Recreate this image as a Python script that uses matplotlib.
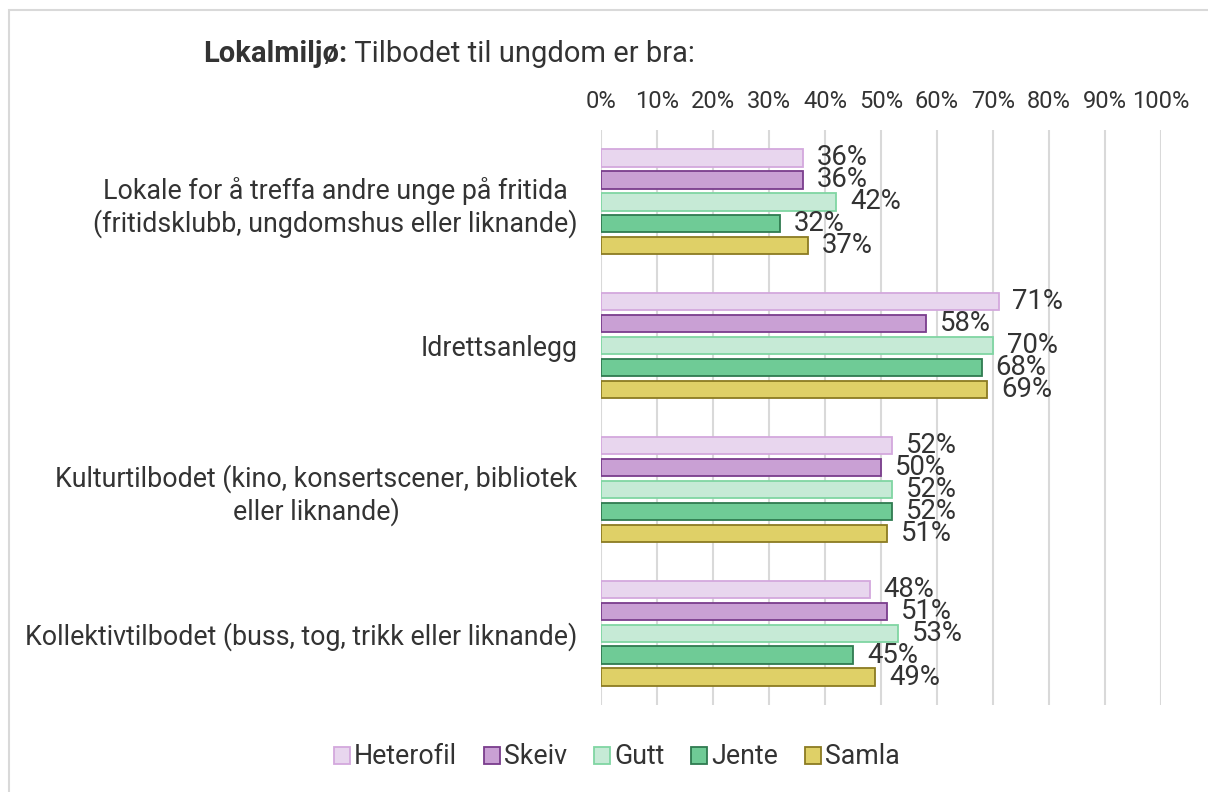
import matplotlib
matplotlib.use("Agg")
import matplotlib.pyplot as plt
from matplotlib.patches import Rectangle
import numpy as np

plt.rcParams['font.family'] = ['Roboto', 'DejaVu Sans']

categories = [
    "Lokale for å treffa andre unge på fritida\n(fritidsklubb, ungdomshus eller liknande)",
    "Idrettsanlegg",
    "Kulturtilbodet (kino, konsertscener, bibliotek\neller liknande)",
    "Kollektivtilbodet (buss, tog, trikk eller liknande)",
]
series_names = ["Heterofil", "Skeiv", "Gutt", "Jente", "Samla"]
heterofil = [36, 71, 52, 48]
skeiv = [36, 58, 50, 51]
gutt = [42, 70, 52, 53]
jente = [32, 68, 52, 45]
samla = [37, 69, 51, 49]
tick_values = [0, 10, 20, 30, 40, 50, 60, 70, 80, 90, 100]

series = [heterofil, skeiv, gutt, jente, samla]
face_colors = ["#E8D6EE", "#C9A0D4", "#C6EAD6", "#6FCB96", "#DFD067"]
edge_colors = ["#D3A8DD", "#7A3D8C", "#80D5A3", "#2F7B50", "#8B7B22"]
text_col = "#333333"

fig = plt.figure(figsize=(12.08, 7.92), dpi=100)
ax = fig.add_axes([601 / 1208, 1 - 705 / 792, 560 / 1208, 575 / 792])

# frame around the chart
fig.patches.append(Rectangle((9 / 1208, -0.1), 1.2, 1 - 10 / 792 + 0.1,
                             transform=fig.transFigure, fill=False,
                             edgecolor="#D9D9D9", linewidth=1.5))

step = 0.153
height = 0.12
y_base = np.arange(len(categories))
for j, (name, vals) in enumerate(zip(series_names, series)):
    ypos = y_base + (j - 2) * step
    ax.barh(ypos, vals, height=height, color=face_colors[j],
            edgecolor=edge_colors[j], linewidth=1.3, label=name, zorder=3)
    for y, v in zip(ypos, vals):
        ax.annotate(f"{v}%", xy=(v, y), xytext=(10, 0), textcoords="offset points",
                    ha="left", va="center", fontsize=19.8, color=text_col, zorder=4)

ax.set_ylim(len(categories) - 0.5, -0.5)
ax.set_xlim(0, 100)
ax.set_xticks(tick_values)
ax.set_xticklabels([f"{t}%" for t in tick_values])
ax.xaxis.tick_top()
ax.tick_params(axis="x", length=0, pad=12, labelsize=17, colors=text_col)
ax.set_yticks(y_base)
ax.set_yticklabels(categories, multialignment="center")
ax.tick_params(axis="y", length=0, pad=17, labelsize=19.3, colors=text_col)
ax.grid(axis="x", color="#D9D9D9", linewidth=1.5, zorder=0)
ax.set_axisbelow(True)
for s in ax.spines.values():
    s.set_visible(False)

t1 = fig.text(203 / 1208, 1 - 62 / 792, "Lokalmiljø:", fontsize=21, fontweight="bold",
              color=text_col, ha="left", va="baseline")
ax.annotate(" Tilbodet til ungdom er bra:", xy=(1, 0), xycoords=t1, fontsize=21,
            color=text_col, ha="left", va="bottom", annotation_clip=False)

leg = fig.legend(loc="center", bbox_to_anchor=(617 / 1208, 1 - 757 / 792), ncol=5,
                 frameon=False, fontsize=19.3, handlelength=0.6, handleheight=0.6,
                 handletextpad=0.15, columnspacing=1.0, labelcolor=text_col)

fig.savefig("out.png", dpi=100)
